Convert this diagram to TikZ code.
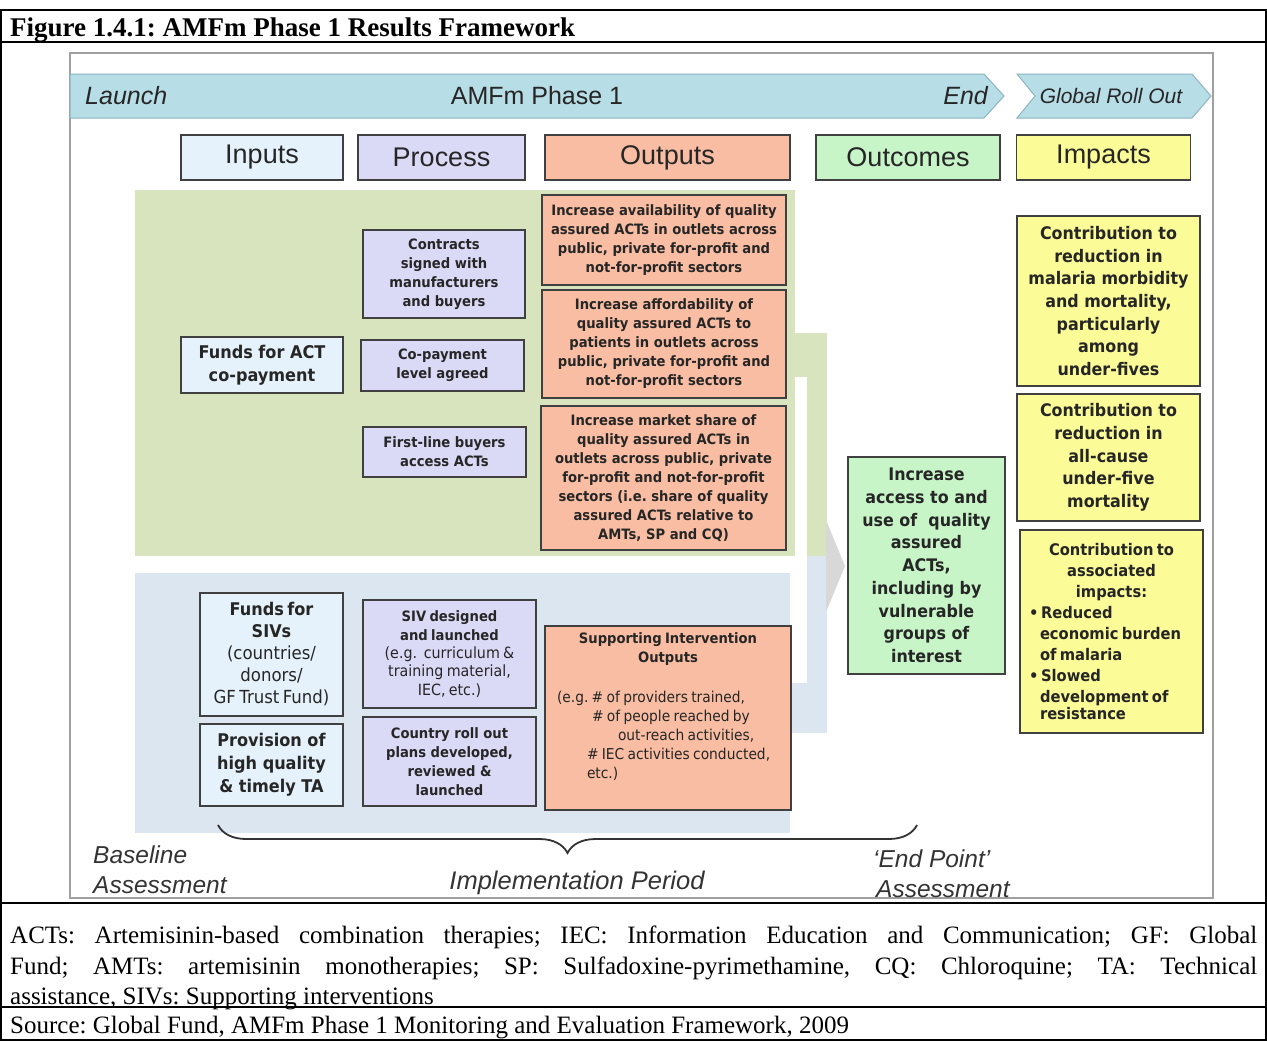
\documentclass[tikz,border=0pt]{standalone}
\usepackage{fontspec}
\setmainfont{Liberation Serif}
\newfontfamily\arialfont{Liberation Sans}
\newfontfamily\boxfont[FakeStretch=0.92]{DejaVu Sans}
\usetikzlibrary{decorations.pathreplacing}
\definecolor{bandblue}{HTML}{B7DDE6}
\definecolor{bandline}{HTML}{8CB4C0}
\definecolor{inblue}{HTML}{E6F2FB}
\definecolor{lavender}{HTML}{DADAF6}
\definecolor{salmon}{HTML}{F8BDA2}
\definecolor{mint}{HTML}{C8F5C8}
\definecolor{lemon}{HTML}{FBFB98}
\definecolor{olivebg}{HTML}{D8E4BD}
\definecolor{greybg}{HTML}{DCE6F1}
\definecolor{arrowgrey}{HTML}{D8D8D8}
\definecolor{boxline}{HTML}{404040}
\definecolor{labelgrey}{HTML}{333333}
\definecolor{framegrey}{HTML}{A0A0A0}
\frenchspacing

\begin{document}
\begin{tikzpicture}[x=1pt, y=-1pt,
    box/.style={draw=boxline, line width=1.3pt, align=center, inner sep=0pt, text=black!85},
    hdr/.style={box, line width=1.5pt, font=\arialfont\fontsize{27}{30}\selectfont},
    smalltxt/.style={font=\boxfont\bfseries\fontsize{14.3}{19}\selectfont},
    bigtxt/.style={font=\boxfont\bfseries\fontsize{17.3}{22.7}\selectfont},
    fundtxt/.style={font=\boxfont\bfseries\fontsize{17.5}{23}\selectfont},
    phase/.style={font=\arialfont\fontsize{25}{28}\selectfont, inner sep=0pt, text=black!85},
    period/.style={font=\arialfont\itshape\fontsize{24.5}{30}\selectfont, text=labelgrey, inner sep=0pt, align=left}]

    \useasboundingbox (0,0) rectangle (1267,1042);

    % table round the figure
    \draw[line width=2.5pt] (1,10) rectangle (1266,1040);
    \draw[line width=2.5pt] (1,42) -- (1266,42);
    \draw[line width=2.5pt] (1,903) -- (1266,903);
    \draw[line width=2.5pt] (1,1007) -- (1266,1007);
    \node[anchor=base west, inner sep=0pt, font=\bfseries\fontsize{27}{30}\selectfont] (title) at (10,36) {Figure 1.4.1: AMFm Phase 1 Results Framework};

    % diagram frame
    \draw[framegrey, line width=1.2pt] (70,53) rectangle (1213,898);

    % time line
    \filldraw[fill=bandblue, draw=bandline, line width=1pt] (70,74) -- (984,74) -- (1004,96) -- (984,118) -- (70,118) -- cycle;
    \filldraw[fill=bandblue, draw=bandline, line width=1pt] (1017,74) -- (1192,74) -- (1211,96) -- (1192,118) -- (1017,118) -- (1035,96) -- cycle;
    \node[phase, anchor=west] (launch) at (85,96) {\itshape Launch};
    \node[phase] (phase1) at (537,96) {AMFm Phase 1};
    \node[phase, anchor=east] (end) at (988,96) {\itshape End};
    \node[phase, font=\arialfont\itshape\fontsize{21}{24}\selectfont] (rollout) at (1111,96) {Global Roll Out};

    % column heads
    \node[hdr, fill=inblue, minimum width=162pt, minimum height=45pt] (inputs) at (262,157.5) {Inputs};
    \node[hdr, fill=lavender, minimum width=167pt, minimum height=45pt] (process) at (441.5,157.5) {Process};
    \node[hdr, fill=salmon, minimum width=245pt, minimum height=45pt] (outputs) at (667.5,157.5) {Outputs};
    \node[hdr, fill=mint, minimum width=184pt, minimum height=45pt] (outcomes) at (908,157.5) {Outcomes};
    \node[hdr, fill=lemon, minimum width=174pt, minimum height=45pt] (impacts) at (1103.5,157.5) {Impacts};

    % background bands
    \fill[olivebg] (135,190) rectangle (795,556);
    \fill[olivebg] (795,333) rectangle (827,377);
    \fill[olivebg] (807,377) rectangle (827,556);
    \fill[greybg] (135,573) rectangle (790,833);
    \fill[greybg] (807,556) rectangle (827,683);
    \fill[greybg] (790,683) rectangle (827,733);
    \fill[arrowgrey] (826,520) -- (845,566) -- (826,612) -- cycle;

    % inputs
    \node[box, fundtxt, fill=inblue, minimum width=162pt, minimum height=56pt] (actfunds) at (262,365) {Funds for ACT\\co-payment};
    \node[box, fill=inblue, minimum width=143pt, minimum height=123pt, text width=135pt] (sivfunds) at (271.5,654.5)
        {{\boxfont\bfseries\fontsize{17.5}{22}\selectfont Funds for\\ SIVs\par}{\boxfont\fontsize{18}{22}\selectfont (countries/\\ donors/\\ GF Trust Fund)\par}};
    \node[box, fundtxt, fill=inblue, minimum width=143pt, minimum height=82pt] (ta) at (271.5,765) {Provision of\\high quality\\\& timely TA};

    % process
    \node[box, smalltxt, fill=lavender, minimum width=162pt, minimum height=88pt] (contracts) at (444,274) {Contracts\\signed with\\manufacturers\\and buyers};
    \node[box, smalltxt, fill=lavender, minimum width=163pt, minimum height=51pt] (copay) at (442.5,365.5) {Co-payment\\level agreed};
    \node[box, smalltxt, fill=lavender, minimum width=163pt, minimum height=50pt] (buyers) at (444.5,452) {First-line buyers\\access ACTs};
    \node[box, fill=lavender, minimum width=173pt, minimum height=108pt, text width=165pt] (sivdesign) at (449.5,654)
        {{\boxfont\bfseries\fontsize{14.3}{18.3}\selectfont SIV designed\\ and launched\par}{\boxfont\fontsize{15.5}{18.3}\selectfont (e.g.~~curriculum \&\\ training material,\\ IEC, etc.)\par}};
    \node[box, smalltxt, fill=lavender, minimum width=173pt, minimum height=89pt] (rollplans) at (449.5,761.5) {Country roll out\\plans developed,\\reviewed \&\\launched};

    % outputs
    \node[box, smalltxt, fill=salmon, minimum width=244pt, minimum height=90pt] (avail) at (664,240) {Increase availability of quality\\assured ACTs in outlets across\\public, private for-profit and\\not-for-profit sectors};
    \node[box, smalltxt, fill=salmon, minimum width=244pt, minimum height=108pt] (afford) at (664,344) {Increase affordability of\\quality assured ACTs to\\patients in outlets across\\public, private for-profit and\\not-for-profit sectors};
    \node[box, smalltxt, fill=salmon, minimum width=245pt, minimum height=144pt] (share) at (663.5,478) {Increase market share of\\quality assured ACTs in\\outlets across public, private\\for-profit and not-for-profit\\sectors (i.e. share of quality\\assured ACTs relative to\\AMTs, SP and CQ)};
    \node[box, fill=salmon, minimum width=246pt, minimum height=184pt, text width=222pt, align=left] (sivout) at (668,718)
        {{\centering\boxfont\bfseries\fontsize{14.3}{19}\selectfont Supporting Intervention\\ Outputs\par}
         \vspace{21pt}
         {\boxfont\fontsize{15}{19}\selectfont (e.g.~\# of providers trained,\\
         \hspace*{35pt}\# of people reached by\\
         \hspace*{61pt}out-reach activities,\\
         \hspace*{30pt}\# IEC activities conducted,\\
         \hspace*{30pt}etc.)\\[5pt]\mbox{}\par}};

    % outcome
    \node[box, bigtxt, fill=mint, minimum width=157pt, minimum height=217pt] (access) at (926.5,565.5) {Increase\\access to and\\use of~ quality\\assured\\ACTs,\\including by\\vulnerable\\groups of\\interest};

    % impacts
    \node[box, bigtxt, fill=lemon, minimum width=183pt, minimum height=170pt] (morb) at (1108.5,301) {Contribution to\\reduction in\\malaria morbidity\\and mortality,\\particularly\\among\\under-fives};
    \node[box, bigtxt, fill=lemon, minimum width=183pt, minimum height=127pt] (allcause) at (1108.5,457.5) {Contribution to\\reduction in\\all-cause\\under-five\\mortality};
    \node[box, fill=lemon, minimum width=183pt, minimum height=203pt, text width=165pt, align=left] (assoc) at (1111.5,631.5)
        {\boxfont\bfseries\fontsize{16}{21}\selectfont
         {\centering Contribution to\\ associated\\ impacts:\par}
         \textbullet\,Reduced\\
         \hspace*{11pt}economic burden\\
         \hspace*{11pt}of malaria\\
         \textbullet\,Slowed\\
         \hspace*{11pt}development of\\
         \hspace*{11pt}resistance};

    % implementation period
    \coordinate (implstart) at (218,825);
    \coordinate (implend) at (917,825);
    \draw[labelgrey, line width=1.8pt, decorate, decoration={brace, mirror, amplitude=28pt}] (implstart) -- (implend);
    \node[period, anchor=west] (baseline) at (93,870) {Baseline\\Assessment};
    \node[period, font=\arialfont\itshape\fontsize{25.5}{30}\selectfont] (implper) at (577,883) {Implementation Period};
    \node[period, anchor=west] (endpoint) at (873,874) {‘End Point’\\\hspace*{3pt}Assessment};

    % notes below the figure
    \node[anchor=north west, inner sep=0pt, text width=1247pt, align=justify, font=\fontsize{25}{30.5}\selectfont] (abbrev) at (10,926)
        {ACTs: Artemisinin-based combination therapies; IEC: Information Education and Communication; GF: Global\linebreak
         Fund; AMTs: artemisinin monotherapies; SP: Sulfadoxine-pyrimethamine, CQ: Chloroquine; TA: Technical\linebreak
         assistance, SIVs: Supporting interventions};
    \node[anchor=base west, inner sep=0pt, font=\fontsize{25}{30}\selectfont] (source) at (10,1033) {Source: Global Fund, AMFm Phase 1 Monitoring and Evaluation Framework, 2009};
\end{tikzpicture}
\end{document}
